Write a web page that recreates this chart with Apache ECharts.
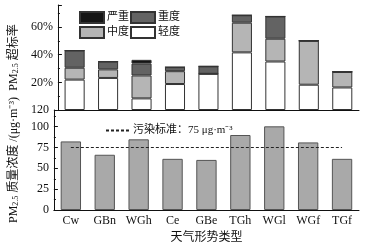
<!DOCTYPE html>
<html>
<head>
<meta charset="utf-8">
<script src="https://cdn.jsdelivr.net/npm/echarts@6/dist/echarts.min.js"></script>
<style>
html, body { margin: 0; padding: 0; background: #fff; }
#chart { width: 367px; height: 247px; }
</style>
</head>
<body>
<div id="chart"></div>
<script>
var categories = ['Cw', 'GBn', 'WGh', 'Ce', 'GBe', 'TGh', 'WGl', 'WGf', 'TGf'];
// 超标率 (%)
var lightRate = [22, 23.2, 8.4, 18.8, 26.2, 41.7, 35.1, 18.3, 16.3];
var moderateRate = [8.6, 6.2, 16.6, 9.3, 0, 21.5, 16.5, 31.8, 11.3];
var heavyRate = [12.4, 5.6, 8.6, 2.9, 5.4, 5.4, 16.1, 0, 0];
var severeRate = [0, 0, 2.7, 0, 0, 0, 0, 0, 0];
// PM2.5 质量浓度
var concentration = [82.3, 66.3, 84.8, 61.4, 60.1, 90, 100.4, 81.1, 61.4];
var standard = [75, 75, 75, 75, 75, 75, 75, 75, 75];

var serif = '"Liberation Serif", "Noto Sans CJK SC", serif';
var black = '#111';

var myChart = echarts.init(document.getElementById('chart'));

function rateBar(name, data, color) {
    return {
        name: name,
        type: 'bar',
        stack: 'rate',
        xAxisIndex: 0,
        yAxisIndex: 0,
        barWidth: '60%',
        data: data,
        itemStyle: { color: color, borderColor: '#333', borderWidth: 1 }
    };
}

var axisLine = { lineStyle: { color: black, width: 1 } };

var option = {
    animation: false,
    textStyle: { fontFamily: serif },
    grid: [
        { left: 46, right: 8, top: 5, height: 105 },
        { left: 46, right: 8, top: 110, height: 100 }
    ],
    legend: [
        {
            data: ['严重', '重度'],
            left: 74, top: 6,
            itemWidth: 24, itemHeight: 11, itemGap: 1,
            icon: 'rect',
            textStyle: { fontFamily: serif, fontSize: 11, color: black, padding: [0, 0, 0, -2] }
        },
        {
            data: ['中度', '轻度'],
            left: 74, top: 21,
            itemWidth: 24, itemHeight: 11, itemGap: 1,
            icon: 'rect',
            textStyle: { fontFamily: serif, fontSize: 11, color: black, padding: [0, 0, 0, -2] }
        },
        {
            data: ['污染标准：75 μg·m⁻³'],
            left: 100, top: 120,
            itemWidth: 24, itemHeight: 10,
            itemStyle: { opacity: 0 },
            textStyle: { fontFamily: serif, fontSize: 11, color: black, padding: [0, 0, 0, -2] }
        }
    ],
    xAxis: [
        {
            type: 'category',
            gridIndex: 0,
            data: categories,
            axisLine: axisLine,
            axisTick: { show: false },
            axisLabel: { show: false }
        },
        {
            type: 'category',
            gridIndex: 1,
            data: categories,
            axisLine: axisLine,
            axisTick: { show: false },
            axisLabel: { color: black, fontSize: 12, margin: 5, fontFamily: serif },
            name: '天气形势类型',
            nameLocation: 'middle',
            nameGap: 22,
            nameTextStyle: { color: black, fontSize: 12, fontFamily: serif }
        }
    ],
    yAxis: [
        {
            type: 'value',
            gridIndex: 0,
            min: 0,
            max: 76,
            interval: 20,
            splitLine: { show: false },
            axisLine: { show: true, lineStyle: { color: black, width: 1 } },
            axisTick: { show: true, inside: true, length: 4, lineStyle: { color: black } },
            minorTick: { show: true, splitNumber: 2, length: 2, lineStyle: { color: black } },
            axisLabel: {
                color: black, fontSize: 12, margin: 5, fontFamily: serif,
                showMaxLabel: false,
                formatter: function (v) { return v === 0 ? '' : v + '%'; }
            },
            name: '{n|PM}{s|2.5}{n| 超标率}',
            nameLocation: 'middle',
            nameGap: 28,
            nameTextStyle: {
                rich: {
                    n: { fontSize: 12, color: black, fontFamily: serif },
                    s: { fontSize: 8, color: black, fontFamily: serif, verticalAlign: 'bottom', padding: [4, 0, 0, 0] }
                }
            }
        },
        {
            type: 'value',
            gridIndex: 1,
            min: 0,
            max: 120,
            interval: 25,
            splitLine: { show: false },
            axisLine: { show: true, lineStyle: { color: black, width: 1 } },
            axisTick: { show: true, inside: true, length: 4, lineStyle: { color: black } },
            minorTick: { show: true, splitNumber: 2, length: 2, lineStyle: { color: black } },
            axisLabel: { color: black, fontSize: 12, margin: 5, fontFamily: serif },
            name: '{n|PM}{s|2.5}{n| 质量浓度 /(μg·m⁻³)}',
            nameLocation: 'middle',
            nameGap: 28,
            nameTextStyle: {
                rich: {
                    n: { fontSize: 12, color: black, fontFamily: serif },
                    s: { fontSize: 8, color: black, fontFamily: serif, verticalAlign: 'bottom', padding: [4, 0, 0, 0] }
                }
            }
        }
    ],
    series: [
        rateBar('轻度', lightRate, '#ffffff'),
        rateBar('中度', moderateRate, '#b5b5b5'),
        rateBar('重度', heavyRate, '#636363'),
        rateBar('严重', severeRate, '#151515'),
        {
            name: 'PM2.5',
            type: 'bar',
            xAxisIndex: 1,
            yAxisIndex: 1,
            barWidth: '60%',
            data: concentration,
            itemStyle: { color: '#a9a9a9', borderColor: '#555', borderWidth: 1 }
        },
        {
            name: '污染标准：75 μg·m⁻³',
            type: 'line',
            xAxisIndex: 1,
            yAxisIndex: 1,
            data: standard,
            symbol: 'none',
            itemStyle: { color: '#222' },
            lineStyle: { color: '#222', width: 1, type: [3, 2] },
            z: 5
        }
    ]
};
myChart.setOption(option);
</script>
</body>
</html>
